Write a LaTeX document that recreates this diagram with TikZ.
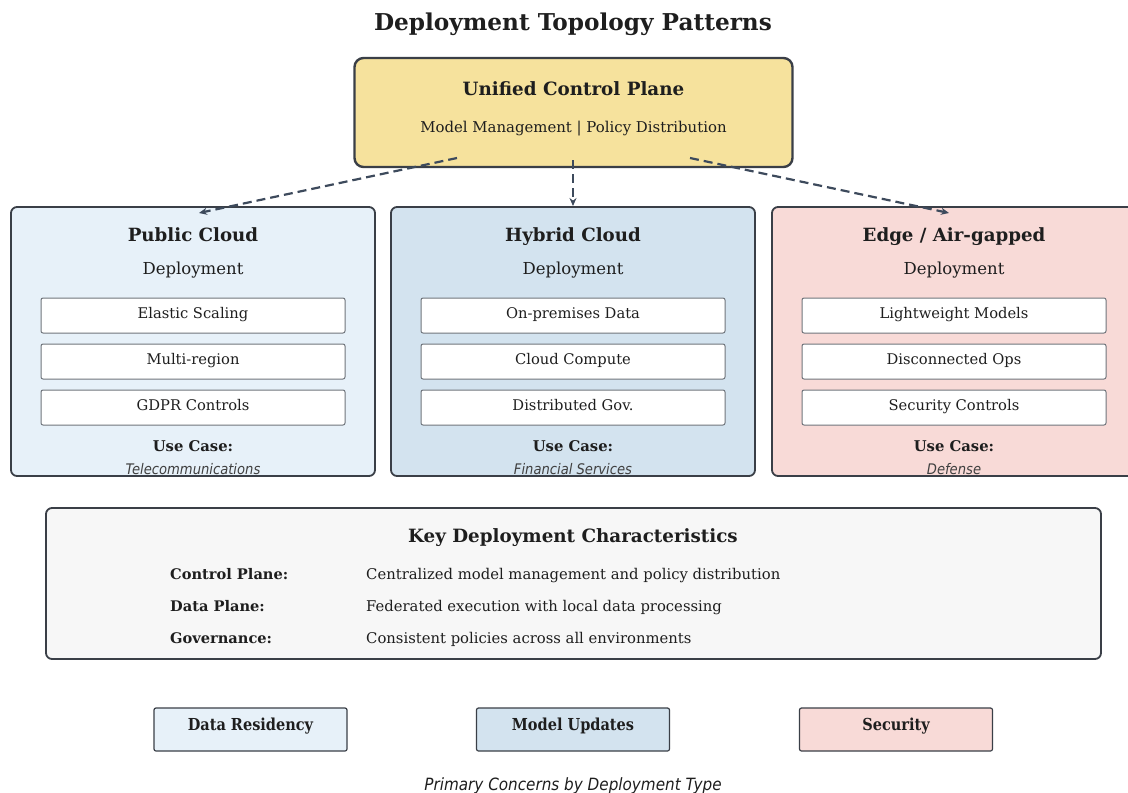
\documentclass[tikz,border=0pt]{standalone}
\usepackage{fontspec}
\setmainfont{DejaVu Serif}
\setsansfont{DejaVu Sans}
\newfontfamily\condserif[FakeStretch=0.88]{DejaVu Serif}
\newfontfamily\condsans[FakeStretch=0.9]{DejaVu Sans}
\usetikzlibrary{arrows.meta}
\definecolor{ink}{HTML}{1E1E1E}
\definecolor{edgeline}{HTML}{3A3F47}
\definecolor{arrowc}{HTML}{3D4A5C}
\definecolor{ctrlfill}{HTML}{F6E29D}
\definecolor{pubfill}{HTML}{E7F1F9}
\definecolor{hybfill}{HTML}{D3E3EF}
\definecolor{edgfill}{HTML}{F8DAD7}
\definecolor{keyfill}{HTML}{F7F7F7}
\definecolor{itemline}{HTML}{70757C}
\tikzset{
  txt/.style={anchor=mid, inner sep=0pt, text=ink},
  panel/.style={draw=edgeline, line width=1.8pt, rounded corners=6pt, inner sep=0pt},
  itembox/.style={draw=itemline, fill=white, line width=1pt, rounded corners=2pt,
    minimum width=304pt, minimum height=35pt, inner sep=0pt},
  itemtxt/.style={txt, font=\fontsize{14.7}{17}\selectfont},
  boxtitle/.style={txt, font=\fontsize{18.2}{21}\selectfont\bfseries},
  boxsub/.style={txt, font=\fontsize{16.5}{19}\selectfont},
  usecase/.style={txt, font=\fontsize{14.8}{17}\selectfont\bfseries},
  usename/.style={txt, font=\fontsize{14.6}{17}\condsans\itshape, text=ink!85},
  keylab/.style={txt, font=\fontsize{14.6}{17}\selectfont\bfseries, anchor=mid west},
  keytxt/.style={txt, font=\fontsize{14.8}{17}\selectfont, anchor=mid west},
  concern/.style={draw=edgeline, line width=1.2pt, rounded corners=2pt,
    minimum width=193pt, minimum height=43pt, inner sep=0pt},
  concerntxt/.style={txt, font=\fontsize{16.5}{19}\condserif\bfseries},
  flow/.style={draw=arrowc, line width=2.2pt, dash pattern=on 9pt off 5pt,
    -{Stealth[length=8pt,width=7pt]}},
}
\begin{document}
\begin{tikzpicture}[x=1pt,y=-1pt]
\useasboundingbox (0,0) rectangle (1128,793);
\clip (0,0) rectangle (1128,793);

% heading
\node[txt, font=\fontsize{23.2}{27}\selectfont\bfseries] (title) at (573,28) {Deployment Topology Patterns};

% control plane
\node[panel, fill=ctrlfill, line width=2.4pt, rounded corners=9pt,
  minimum width=438pt, minimum height=109pt] (ctrl) at (573.5,112.5) {};
\node[txt, font=\fontsize{18.3}{21}\selectfont\bfseries] (ctrlT) at (573.5,93) {Unified Control Plane};
\node[txt, font=\fontsize{14.9}{17}\selectfont] (ctrlS) at (573.5,130) {Model Management | Policy Distribution};

% deployment panels
\node[panel, fill=pubfill, minimum width=364pt, minimum height=269pt] (pub) at (193,341.5) {};
\node[panel, fill=hybfill, minimum width=364pt, minimum height=269pt] (hyb) at (573,341.5) {};
\node[panel, fill=edgfill, minimum width=364pt, minimum height=269pt] (edg) at (954,341.5) {};

% public cloud contents
\node[boxtitle] (pubT) at (193,239) {Public Cloud};
\node[boxsub] (pubS) at (193,272) {Deployment};
\node[itembox] (pub1) at (193,315.5) {};
\node[itemtxt] at (pub1) {Elastic Scaling};
\node[itembox] (pub2) at (193,361.5) {};
\node[itemtxt] at (pub2) {Multi-region};
\node[itembox] (pub3) at (193,407.5) {};
\node[itemtxt] at (pub3) {GDPR Controls};
\node[usecase] (pubU) at (193,449) {Use Case:};
\node[usename] (pubN) at (193,472) {Telecommunications};

% hybrid cloud contents
\node[boxtitle] (hybT) at (573,239) {Hybrid Cloud};
\node[boxsub] (hybS) at (573,272) {Deployment};
\node[itembox] (hyb1) at (573,315.5) {};
\node[itemtxt] at (hyb1) {On-premises Data};
\node[itembox] (hyb2) at (573,361.5) {};
\node[itemtxt] at (hyb2) {Cloud Compute};
\node[itembox] (hyb3) at (573,407.5) {};
\node[itemtxt] at (hyb3) {Distributed Gov.};
\node[usecase] (hybU) at (573,449) {Use Case:};
\node[usename] (hybN) at (573,472) {Financial Services};

% edge contents
\node[boxtitle] (edgT) at (954,239) {Edge / Air-gapped};
\node[boxsub] (edgS) at (954,272) {Deployment};
\node[itembox] (edg1) at (954,315.5) {};
\node[itemtxt] at (edg1) {Lightweight Models};
\node[itembox] (edg2) at (954,361.5) {};
\node[itemtxt] at (edg2) {Disconnected Ops};
\node[itembox] (edg3) at (954,407.5) {};
\node[itemtxt] at (edg3) {Security Controls};
\node[usecase] (edgU) at (954,449) {Use Case:};
\node[usename] (edgN) at (954,472) {Defense};

% distribution links
\coordinate (cL) at (457,158);
\coordinate (cM) at (573,160);
\coordinate (cR) at (690,158);
\coordinate (tL) at (199,213);
\coordinate (tM) at (573,206);
\coordinate (tR) at (949,213);
\draw[flow] (cL) -- (tL);
\draw[flow] (cM) -- (tM);
\draw[flow] (cR) -- (tR);

% characteristics
\node[panel, fill=keyfill, minimum width=1055pt, minimum height=151pt] (key) at (573.5,583.5) {};
\node[txt, font=\fontsize{18.3}{21}\selectfont\bfseries] (keyT) at (573,540) {Key Deployment Characteristics};
\node[keylab] (k1) at (170,577) {Control Plane:};
\node[keytxt] (d1) at (366,577) {Centralized model management and policy distribution};
\node[keylab] (k2) at (170,609) {Data Plane:};
\node[keytxt] (d2) at (366,609) {Federated execution with local data processing};
\node[keylab] (k3) at (170,641) {Governance:};
\node[keytxt] (d3) at (366,641) {Consistent policies across all environments};

% concerns
\node[concern, fill=pubfill] (c1) at (250.5,729.5) {};
\node[concerntxt] at (250.5,728) {Data Residency};
\node[concern, fill=hybfill] (c2) at (573,729.5) {};
\node[concerntxt] at (573,728) {Model Updates};
\node[concern, fill=edgfill] (c3) at (896,729.5) {};
\node[concerntxt] at (896,728) {Security};

\node[txt, font=\fontsize{16.9}{20}\condsans\itshape] (cap) at (573,788) {Primary Concerns by Deployment Type};
\end{tikzpicture}
\end{document}
